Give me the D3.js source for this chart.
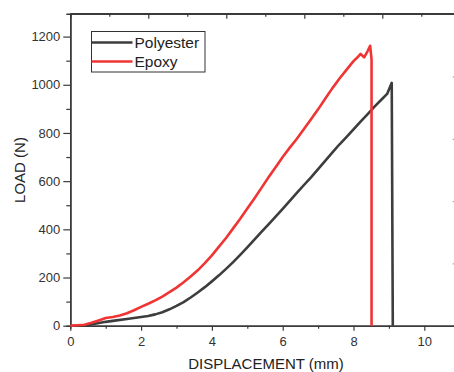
<!DOCTYPE html>
<html>
<head>
<meta charset="utf-8">
<script src="https://cdn.jsdelivr.net/npm/d3@7"></script>
<style>
  body { margin: 0; background: #fff; }
  svg { display: block; font-family: "Liberation Sans", Arial, sans-serif; }
</style>
</head>
<body>
<svg id="chart" width="454" height="372"></svg>
<script>
// displacement (mm) / load (N)
const polyDisp = [0, 0.35, 0.5, 0.7, 1.0, 1.3, 1.6, 2.0, 2.2, 2.4, 2.6, 2.8, 3.0, 3.2, 3.4, 3.6, 3.8, 4.0,
  4.2, 4.4, 4.6, 4.8, 5.0, 5.2, 5.4, 5.6, 5.8, 6.0, 6.2, 6.4, 6.6, 6.8, 7.0, 7.2, 7.4, 7.6, 7.8, 8.0,
  8.2, 8.4, 8.6, 8.8, 8.95, 9.08, 9.11];
const polyLoad = [0, 0, 3, 8, 16, 22, 28, 36, 40, 47, 56, 68, 82, 98, 117, 138, 160, 184,
  209, 236, 264, 294, 325, 357, 389, 421, 453, 485, 518, 551, 584, 616, 650, 684, 718, 752, 783, 815,
  847, 878, 910, 940, 962, 1008, 0];

const epoxyDisp = [0, 0.2, 0.4, 0.6, 0.8, 1.0, 1.2, 1.4, 1.6, 1.8, 2.0, 2.2, 2.4, 2.6, 2.8, 3.0, 3.2, 3.4,
  3.6, 3.8, 4.0, 4.2, 4.4, 4.6, 4.8, 5.0, 5.2, 5.4, 5.6, 5.8, 6.0, 6.2, 6.4, 6.6, 6.8, 7.0, 7.2, 7.4,
  7.6, 7.8, 8.0, 8.1, 8.2, 8.3, 8.4, 8.47, 8.51, 8.51];
const epoxyLoad = [0, 2, 4, 12, 22, 32, 36, 42, 52, 64, 78, 91, 105, 121, 139, 158, 180, 204,
  230, 260, 292, 328, 364, 404, 444, 486, 528, 572, 616, 658, 700, 739, 776, 816, 857, 898, 942, 985,
  1025, 1062, 1098, 1112, 1128, 1114, 1140, 1162, 1105, 0];

const seriesNames = ["Polyester", "Epoxy"];
const seriesColors = ["#3d3d3d", "#f03434"];
const xTicks = [0, 2, 4, 6, 8, 10];
const yTicks = [0, 200, 400, 600, 800, 1000, 1200];

const svg = d3.select("#chart");
const plotLeft = 70.3, plotTop = 13.7, plotBottom = 325.7, plotRight = 459.7;
const axisColor = "#3a3a3a";

const xScale = d3.scaleLinear().domain([0, 11]).range([plotLeft, plotRight]);
const yScale = d3.scaleLinear().domain([0, 1295]).range([plotBottom, plotTop]);
// top and right frame ticks in the original do not follow the data scales
const topScale = d3.scaleLinear().domain([0, 10]).range([plotLeft, plotLeft + 390]);
const rightScale = d3.scaleLinear().domain([0, 5]).range([plotBottom, plotBottom - 311.5]);

function styleAxis(g) {
  g.select(".domain").attr("stroke", axisColor).attr("stroke-width", 1.5);
  g.selectAll(".tick line").attr("stroke", axisColor).attr("stroke-width", 1.2);
  g.selectAll(".tick text").attr("fill", "#333").attr("font-size", 13);
}

// minor ticks
svg.append("g")
  .attr("transform", `translate(0,${plotBottom})`)
  .call(d3.axisBottom(xScale).tickValues(d3.range(1, 11, 2)).tickSize(3).tickFormat(""))
  .call(styleAxis);
svg.append("g")
  .attr("transform", `translate(${plotLeft},0)`)
  .call(d3.axisLeft(yScale).tickValues(d3.range(100, 1300, 200)).tickSize(4).tickFormat(""))
  .call(styleAxis);

svg.append("g")
  .attr("transform", `translate(0,${plotBottom})`)
  .call(d3.axisBottom(xScale).tickValues(xTicks).tickFormat(d3.format("d"))
    .tickSize(5).tickSizeOuter(0).tickPadding(6))
  .call(styleAxis);

svg.append("g")
  .attr("transform", `translate(${plotLeft},0)`)
  .call(d3.axisLeft(yScale).tickValues(yTicks).tickFormat(d3.format("d"))
    .tickSize(7).tickSizeOuter(0).tickPadding(3))
  .call(styleAxis);

svg.append("g")
  .attr("transform", `translate(0,${plotTop})`)
  .call(d3.axisTop(topScale).tickValues(d3.range(0, 11, 2)).tickSize(-5).tickSizeOuter(0).tickFormat(""))
  .call(styleAxis);
svg.append("g")
  .attr("transform", `translate(0,${plotTop})`)
  .call(d3.axisTop(topScale).tickValues(d3.range(1, 11, 2)).tickSize(-3).tickFormat(""))
  .call(styleAxis);
svg.append("line")
  .attr("x1", plotLeft).attr("x2", 454).attr("y1", plotTop).attr("y2", plotTop)
  .attr("stroke", axisColor).attr("stroke-width", 1.5);

svg.append("g")
  .attr("transform", `translate(${plotRight},0)`)
  .call(d3.axisRight(rightScale).tickValues([1, 2, 3, 4]).tickSize(-7).tickFormat(""))
  .call(g => g.select(".domain").remove())
  .call(g => g.selectAll(".tick line").attr("stroke", "#999").attr("stroke-width", 1));

const line = d3.line()
  .x(d => xScale(d[0]))
  .y(d => yScale(d[1]));

const series = [
  d3.zip(polyDisp, polyLoad),
  d3.zip(epoxyDisp, epoxyLoad)
];

svg.append("g").selectAll("path")
  .data(series)
  .join("path")
  .attr("d", line)
  .attr("fill", "none")
  .attr("stroke", (d, i) => seriesColors[i])
  .attr("stroke-width", 2.6)
  .attr("stroke-linejoin", "round");

// axis titles
svg.append("text")
  .attr("x", 266).attr("y", 369)
  .attr("text-anchor", "middle")
  .attr("font-size", 15)
  .attr("fill", "#222")
  .text("DISPLACEMENT (mm)");

svg.append("text")
  .attr("transform", "translate(25,170) rotate(-90)")
  .attr("text-anchor", "middle")
  .attr("font-size", 15)
  .attr("fill", "#222")
  .text("LOAD (N)");

// legend
const legend = svg.append("g").attr("transform", "translate(91.5,31.5)");
legend.append("rect")
  .attr("width", 113.5).attr("height", 40.5)
  .attr("fill", "#fff").attr("stroke", "#333").attr("stroke-width", 1);
const item = legend.selectAll("g.item")
  .data(seriesNames)
  .join("g")
  .attr("class", "item")
  .attr("transform", (d, i) => `translate(0,${11 + i * 19})`);
item.append("line")
  .attr("x1", 0).attr("x2", 41)
  .attr("stroke", (d, i) => seriesColors[i])
  .attr("stroke-width", 2.6);
item.append("text")
  .attr("x", 43).attr("y", 5.5)
  .attr("font-size", 15.5)
  .attr("fill", "#222")
  .text(d => d);
</script>
</body>
</html>
